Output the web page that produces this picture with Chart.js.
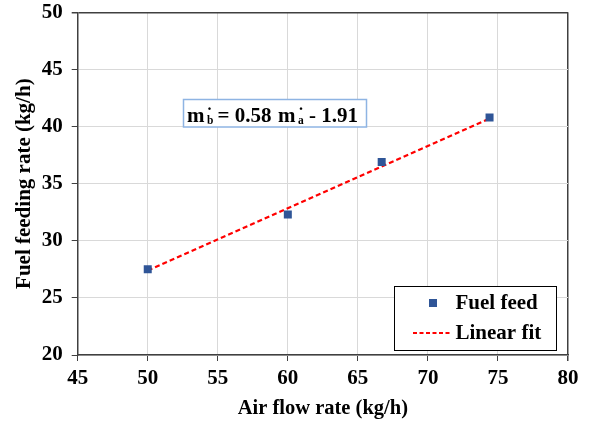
<!DOCTYPE html>
<html>
<head>
<meta charset="utf-8">
<script src="https://cdn.jsdelivr.net/npm/chart.js@4"></script>
<style>
  html, body { margin: 0; padding: 0; background: #ffffff; }
  #wrap { width: 591px; height: 421px; }
</style>
</head>
<body>
<div id="wrap"><canvas id="c" width="591" height="421"></canvas></div>
<script>
// ---- data ----
const airFlow = [50, 60, 66.7, 74.4];          // kg/h
const fuelFeed = [27.5, 32.3, 36.9, 40.8];     // kg/h
const fitX = [50, 74.4];
const fitY = [27.4, 40.7];
const xTickValues = [45, 50, 55, 60, 65, 70, 75, 80];
const yTickValues = [20, 25, 30, 35, 40, 45, 50];
const seriesNames = ['Fuel feed', 'Linear fit'];
const xTitle = 'Air flow rate (kg/h)';
const yTitle = 'Fuel feeding rate (kg/h)';
const eqParts = { m1: 'm', subB: 'b', mid: '= 0.58', m2: 'm', subA: 'a', tail: '- 1.91', dot: '.' };

const FONT = '"Liberation Serif", "Times New Roman", serif';
const DARK = '#404040';
const GRID = '#d9d9d9';
const BLUE = '#2f5597';
const RED = '#ff0000';

const pointData = airFlow.map((x, i) => ({ x: x, y: fuelFeed[i] }));
const fitData = fitX.map((x, i) => ({ x: x, y: fitY[i] }));

const overlayPlugin = {
  id: 'overlay',
  afterDatasetsDraw(chart) {
    const ctx = chart.ctx;
    ctx.save();
    // equation box
    const bx = 183.5, by = 99.5, bw = 183, bh = 27.5;
    ctx.fillStyle = '#ffffff';
    ctx.fillRect(bx, by, bw, bh);
    ctx.strokeStyle = '#8eb4e3';
    ctx.lineWidth = 1.5;
    ctx.strokeRect(bx, by, bw, bh);
    ctx.fillStyle = '#000000';
    ctx.textBaseline = 'alphabetic';
    ctx.textAlign = 'left';
    const big = 'bold 21px ' + FONT;
    const small = 'bold 11.5px ' + FONT;
    const dotFont = 'bold 16px ' + FONT;
    const base = 122;
    ctx.font = big;
    ctx.fillText(eqParts.m1, 187, base);
    ctx.fillText(eqParts.mid, 217.5, base);
    ctx.fillText(eqParts.m2, 278, base);
    ctx.fillText(eqParts.tail, 309, base);
    ctx.font = small;
    ctx.fillText(eqParts.subB, 207, 124);
    ctx.fillText(eqParts.subA, 298, 124);
    ctx.font = dotFont;
    ctx.textAlign = 'center';
    ctx.fillText(eqParts.dot, 209.5, 110);
    ctx.fillText(eqParts.dot, 301, 110);
    ctx.textAlign = 'left';

    // legend
    const lx = 394.5, ly = 286.5, lw = 162, lh = 64;
    ctx.fillStyle = '#ffffff';
    ctx.fillRect(lx, ly, lw, lh);
    ctx.strokeStyle = '#000000';
    ctx.lineWidth = 1;
    ctx.strokeRect(lx, ly, lw, lh);
    ctx.fillStyle = BLUE;
    ctx.fillRect(429, 299, 8, 8);
    ctx.strokeStyle = RED;
    ctx.lineWidth = 2;
    ctx.setLineDash([4, 2.5]);
    ctx.beginPath();
    ctx.moveTo(413, 333);
    ctx.lineTo(452, 333);
    ctx.stroke();
    ctx.setLineDash([]);
    ctx.fillStyle = '#000000';
    ctx.font = 'bold 21px ' + FONT;
    ctx.textBaseline = 'middle';
    ctx.fillText(seriesNames[0], 455.5, 304);
    ctx.fillText(seriesNames[1], 455.5, 334);
    ctx.restore();
  }
};

new Chart(document.getElementById('c'), {
  type: 'scatter',
  data: {
    datasets: [
      {
        label: seriesNames[1],
        data: fitData,
        showLine: true,
        borderColor: RED,
        borderWidth: 2.2,
        borderDash: [5, 3],
        pointRadius: 0,
        fill: false,
        order: 2
      },
      {
        label: seriesNames[0],
        data: pointData,
        pointStyle: 'rect',
        pointRadius: 5.66,
        pointHoverRadius: 5.66,
        backgroundColor: BLUE,
        borderWidth: 0,
        showLine: false,
        order: 1
      }
    ]
  },
  options: {
    responsive: false,
    animation: false,
    devicePixelRatio: 1,
    layout: { padding: { top: 12.3, right: 23, left: 0, bottom: 0 } },
    plugins: { legend: { display: false }, tooltip: { enabled: false } },
    scales: {
      x: {
        type: 'linear',
        min: 45, max: 80,
        afterBuildTicks(scale) { scale.ticks = xTickValues.map(v => ({ value: v })); },
        afterFit(scale) { scale.height = 66; scale.paddingRight = 0; scale.paddingLeft = 0; },
        ticks: { color: '#000', font: { family: FONT, size: 21, weight: 'bold' }, padding: 5, maxRotation: 0 },
        grid: {
          color: c => (c.tick && c.tick.value === 80) ? DARK : GRID,
          lineWidth: c => (c.tick && c.tick.value === 80) ? 1.5 : 1,
          tickColor: DARK, tickLength: 6, drawTicks: true
        },
        border: { color: DARK, width: 1.5 },
        title: { display: true, text: xTitle, color: '#000', font: { family: FONT, size: 20.5, weight: 'bold' }, padding: { top: 0, bottom: 0 } }
      },
      y: {
        type: 'linear',
        min: 20, max: 50,
        afterBuildTicks(scale) { scale.ticks = yTickValues.map(v => ({ value: v })); },
        afterFit(scale) { scale.width = 77.7; scale.paddingTop = 0; scale.paddingBottom = 0; },
        ticks: { color: '#000', font: { family: FONT, size: 21, weight: 'bold' }, padding: 9 },
        grid: {
          color: c => (c.tick && c.tick.value === 50) ? DARK : GRID,
          lineWidth: c => (c.tick && c.tick.value === 50) ? 1.5 : 1,
          tickColor: DARK, tickLength: 6, drawTicks: true
        },
        border: { color: DARK, width: 1.5 },
        title: { display: true, text: yTitle, color: '#000', font: { family: FONT, size: 21, weight: 'bold' }, padding: { top: 12, bottom: 0 } }
      }
    }
  },
  plugins: [overlayPlugin]
});
</script>
</body>
</html>
